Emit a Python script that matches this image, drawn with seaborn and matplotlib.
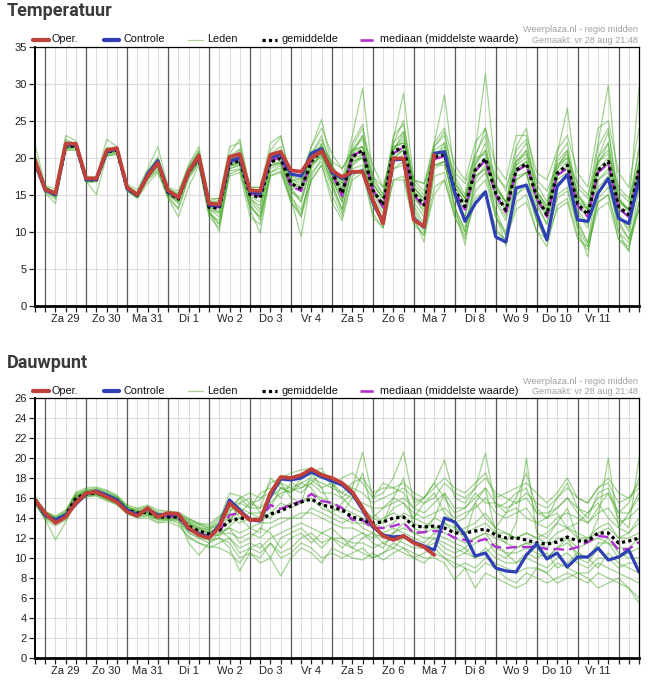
import numpy as np
import pandas as pd
import matplotlib
matplotlib.use("Agg")
import matplotlib.pyplot as plt
from matplotlib.lines import Line2D
import seaborn as sns

# ── data ──────────────────────────────────────────────────────────────────────
# time axis: hours after Za 29 00:00, every 6 h (Aug 28 18:00 .. Sep 12 12:00)
hours = list(range(-6, 349, 6))
day_labels = ["Za 29", "Zo 30", "Ma 31", "Di 1", "Wo 2", "Do 3", "Vr 4",
              "Za 5", "Zo 6", "Ma 7", "Di 8", "Wo 9", "Do 10", "Vr 11"]

# Temperatuur
temp_oper = [19.7,
             15.7, 15.2, 21.9, 21.9, 17.2, 17.2, 21.0, 21.3, 16.0, 15.0, 17.5, 19.3,
             15.6, 14.6, 18.1, 20.3, 13.8, 13.7, 20.1, 20.5, 15.6, 15.5, 20.4, 20.8,
             18.3, 18.1, 20.0, 20.9, 18.3, 17.4, 18.1, 18.1, 14.3, 11.1, 19.9, 19.9,
             11.6, 10.7, 20.4]
temp_controle = [19.3,
                 15.6, 15.0, 21.7, 21.8, 17.0, 17.1, 20.8, 21.2, 15.8, 14.9, 17.8, 19.6,
                 15.4, 14.6, 18.0, 20.1, 13.6, 13.5, 19.5, 20.0, 15.4, 15.2, 20.0, 20.5,
                 17.8, 17.5, 20.6, 21.2, 18.0, 17.2, 18.0, 18.2, 14.0, 11.2, 19.7, 19.8,
                 11.8, 10.6, 20.6, 20.8, 15.2, 11.4, 13.8, 15.4, 9.3, 8.6, 15.9, 16.3,
                 12.5, 8.9, 16.1, 17.7, 11.6, 11.4, 15.2, 17.2, 11.8, 11.1, 17.0]
temp_mean = [19.6,
             15.8, 15.0, 21.5, 21.6, 17.0, 17.0, 20.8, 21.0, 15.8, 14.9, 17.6, 19.2,
             15.3, 14.4, 18.0, 20.0, 13.3, 13.2, 19.2, 19.6, 15.0, 14.6, 19.4, 19.9,
             16.5, 15.8, 19.5, 21.0, 18.1, 15.2, 20.1, 21.0, 15.6, 13.6, 20.8, 21.5,
             15.2, 13.6, 20.1, 20.4, 15.6, 13.4, 18.3, 19.9, 15.2, 12.9, 18.3, 19.2,
             14.7, 12.3, 17.9, 19.0, 13.8, 12.3, 18.3, 19.5, 13.4, 12.3, 18.3]
temp_median = [19.5,
               15.7, 15.0, 21.6, 21.7, 17.1, 17.0, 20.9, 21.1, 15.9, 14.9, 17.7, 19.3,
               15.2, 14.5, 18.0, 20.1, 13.4, 13.3, 19.4, 19.8, 15.2, 14.8, 19.6, 20.1,
               16.2, 15.5, 19.8, 20.8, 18.0, 14.8, 20.3, 20.9, 15.7, 13.3, 20.6, 21.4,
               15.0, 13.3, 19.8, 20.2, 15.4, 13.0, 18.2, 19.6, 15.0, 12.6, 18.2, 19.0,
               14.5, 12.0, 17.6, 18.6, 13.5, 12.0, 18.0, 19.2, 13.2, 12.0, 18.0]
temp_leden = [
    [20.5, 16.0, 15.2, 22.5, 21.8, 17.2, 16.8, 21.4, 21.2, 16.1, 15.2, 18.2, 20.1, 15.8, 15.0, 18.9, 21.0,
     14.0, 14.2, 20.5, 22.5, 15.8, 15.5, 21.0, 22.8, 17.5, 17.6, 21.5, 25.2, 18.8, 17.0, 23.0, 29.4,
     17.5, 15.0, 22.0, 25.0, 16.5, 15.0, 21.5, 23.0, 17.0, 14.5, 20.0, 24.0, 16.5, 14.0, 20.0, 22.0,
     15.5, 13.0, 19.5, 21.0, 15.0, 13.0, 20.0, 23.5, 14.5, 13.0, 19.5],
    [19.0, 15.3, 14.4, 21.0, 21.2, 16.8, 17.1, 20.3, 20.6, 15.6, 14.7, 17.1, 18.4, 14.8, 13.2, 17.3, 19.3,
     12.4, 11.0, 18.2, 18.5, 13.5, 12.0, 18.0, 18.6, 14.0, 12.5, 18.0, 19.5, 16.0, 12.5, 18.5, 19.0,
     13.5, 11.5, 18.5, 19.0, 12.5, 10.0, 17.5, 18.0, 12.5, 10.0, 15.5, 17.0, 12.0, 9.5, 15.0, 16.0,
     11.5, 9.0, 14.5, 15.5, 10.5, 8.0, 14.0, 15.0, 10.0, 8.5, 14.0],
    [20.0, 16.1, 15.4, 21.8, 21.9, 17.3, 17.3, 21.2, 21.2, 15.9, 15.1, 17.9, 19.6, 15.5, 14.9, 18.5, 20.5,
     13.7, 13.6, 19.8, 20.4, 15.6, 15.4, 20.0, 20.6, 17.0, 16.8, 20.0, 21.8, 18.8, 16.0, 21.0, 22.5,
     16.5, 14.5, 22.0, 23.5, 16.0, 14.0, 21.0, 22.0, 16.5, 14.5, 19.5, 21.0, 16.0, 14.0, 19.5, 21.0,
     15.5, 13.5, 19.0, 20.5, 15.0, 13.5, 19.5, 21.0, 14.5, 13.0, 19.5],
    [19.4, 15.6, 14.8, 21.3, 21.4, 16.9, 16.9, 20.6, 20.9, 15.7, 14.8, 17.4, 19.0, 15.0, 14.0, 17.6, 19.6,
     12.8, 10.0, 18.5, 19.0, 13.0, 9.8, 18.0, 19.0, 14.5, 9.3, 17.5, 20.0, 16.5, 13.0, 19.0, 20.5,
     14.0, 12.0, 20.0, 21.0, 12.0, 8.6, 18.5, 19.5, 13.5, 8.2, 17.0, 19.0, 12.5, 8.0, 17.0, 18.0,
     11.5, 8.6, 16.5, 17.5, 10.5, 6.6, 16.0, 17.5, 10.0, 7.3, 16.0],
    [19.8, 15.9, 15.1, 22.0, 22.0, 17.1, 17.2, 21.0, 21.4, 16.0, 15.0, 17.8, 19.8, 15.6, 14.8, 18.6, 20.8,
     13.9, 13.8, 20.2, 21.2, 15.5, 15.0, 20.5, 21.5, 17.0, 16.5, 20.5, 22.5, 19.0, 16.5, 22.0, 24.5,
     17.0, 15.0, 22.5, 28.7, 17.0, 15.5, 22.0, 28.5, 17.5, 15.0, 21.0, 31.4, 18.0, 15.5, 21.5, 24.0,
     16.5, 14.0, 20.5, 26.7, 16.0, 14.5, 22.0, 29.8, 15.5, 14.0, 21.0],
    [19.2, 15.5, 15.0, 21.2, 21.5, 17.0, 16.9, 20.5, 20.8, 15.8, 14.8, 17.2, 18.8, 15.2, 14.2, 17.8, 19.8,
     13.0, 12.5, 18.8, 19.2, 14.5, 13.5, 18.8, 19.3, 15.5, 14.5, 19.0, 20.5, 17.5, 14.0, 19.5, 20.0,
     14.5, 12.5, 19.5, 20.0, 14.0, 12.0, 19.0, 19.0, 14.5, 12.0, 17.5, 18.5, 14.0, 11.5, 17.0, 18.0,
     13.5, 11.0, 16.5, 17.5, 12.5, 10.5, 17.0, 18.0, 12.0, 10.5, 17.0],
    [19.9, 15.9, 15.3, 21.6, 21.7, 17.1, 17.0, 20.9, 21.1, 16.2, 15.3, 18.0, 19.5, 15.8, 15.2, 18.4, 20.2,
     14.2, 14.5, 19.8, 20.0, 16.0, 16.0, 19.8, 20.2, 18.2, 18.0, 20.8, 21.5, 19.5, 18.5, 21.0, 21.5,
     17.5, 16.0, 21.5, 22.0, 17.0, 16.5, 20.5, 21.0, 18.0, 16.5, 20.0, 20.5, 17.5, 16.0, 19.5, 20.5,
     17.0, 15.5, 19.0, 20.0, 16.5, 15.0, 19.5, 20.5, 16.0, 14.5, 19.0],
    [19.6, 15.8, 14.9, 21.5, 21.5, 16.9, 17.0, 20.7, 20.9, 15.7, 14.9, 17.5, 19.1, 15.1, 14.2, 17.9, 19.8,
     13.1, 12.0, 19.0, 19.3, 14.2, 12.5, 19.0, 19.5, 15.5, 14.0, 19.0, 20.5, 17.0, 14.5, 19.5, 20.0,
     13.5, 11.5, 18.5, 19.5, 13.5, 11.0, 19.0, 19.5, 13.0, 10.5, 16.5, 18.0, 12.0, 10.0, 15.0, 16.5,
     11.5, 9.5, 15.0, 16.0, 11.0, 8.5, 14.5, 16.0, 11.0, 9.0, 13.0],
    [19.7, 16.1, 15.2, 21.9, 21.8, 17.2, 17.1, 21.1, 21.3, 16.0, 15.0, 18.0, 19.9, 15.5, 14.6, 18.5, 20.6,
     13.6, 13.3, 19.8, 21.0, 15.2, 15.0, 20.2, 21.0, 16.8, 16.2, 20.5, 23.0, 18.5, 15.5, 21.5, 24.0,
     16.5, 14.5, 23.0, 24.5, 16.0, 14.5, 21.5, 23.5, 16.5, 14.5, 20.5, 23.0, 16.0, 14.0, 21.0, 22.5,
     15.5, 13.5, 20.0, 22.0, 15.0, 13.0, 21.5, 24.0, 14.5, 12.5, 21.5],
    [19.5, 15.7, 14.9, 21.4, 21.6, 16.8, 17.0, 20.6, 20.8, 15.6, 14.7, 17.3, 18.9, 15.1, 14.3, 17.7, 19.7,
     13.2, 12.8, 18.8, 19.4, 14.8, 14.0, 19.0, 19.4, 16.0, 15.5, 19.0, 20.2, 17.8, 15.0, 19.8, 20.5,
     15.5, 13.5, 20.0, 21.0, 14.5, 13.0, 20.5, 20.5, 15.0, 13.0, 18.5, 19.5, 15.0, 13.0, 18.5, 19.5,
     14.5, 12.0, 17.5, 18.5, 14.0, 12.5, 18.5, 19.0, 13.5, 12.0, 18.5],
    [21.8, 16.2, 15.8, 23.0, 22.3, 17.5, 17.4, 22.5, 21.5, 16.4, 15.7, 18.5, 21.5, 16.0, 15.5, 19.0, 21.5,
     14.5, 14.5, 21.5, 22.0, 16.0, 16.0, 22.0, 23.0, 17.0, 17.2, 21.5, 24.0, 20.5, 18.5, 21.0, 23.0,
     19.0, 16.0, 21.0, 23.0, 17.0, 16.5, 22.0, 24.0, 19.0, 17.0, 22.0, 24.0, 19.0, 17.0, 23.0, 23.0,
     18.0, 17.0, 21.0, 23.0, 18.0, 16.0, 24.0, 25.0, 18.0, 16.0, 24.0],
    [19.3, 15.5, 14.6, 21.2, 21.4, 16.8, 15.0, 20.3, 20.5, 15.5, 14.5, 16.5, 18.0, 14.5, 12.0, 16.0, 19.0,
     12.0, 10.5, 17.5, 18.0, 12.0, 11.0, 17.5, 18.0, 14.0, 12.0, 17.0, 19.0, 14.0, 11.5, 17.0, 18.0,
     12.0, 10.5, 17.0, 17.0, 11.0, 9.5, 15.0, 17.0, 12.0, 9.5, 14.0, 15.0, 10.0, 9.0, 13.0, 14.0,
     10.0, 9.0, 13.0, 14.0, 9.0, 8.0, 13.0, 14.0, 9.0, 8.0, 13.0],
    [19.8, 15.9, 15.1, 21.7, 21.6, 17.0, 17.1, 20.9, 21.0, 15.9, 14.9, 17.7, 19.3, 15.3, 14.5, 18.2, 20.1,
     13.4, 13.5, 19.4, 19.8, 15.3, 14.9, 19.7, 20.3, 16.6, 16.0, 19.8, 21.5, 18.3, 15.5, 21.0, 21.5,
     16.0, 14.0, 21.5, 22.0, 15.5, 14.0, 20.5, 21.0, 16.0, 14.0, 19.0, 21.0, 15.5, 13.5, 19.0, 20.0,
     15.0, 12.5, 18.5, 20.0, 14.0, 13.0, 20.0, 22.0, 14.0, 13.0, 29.6],
    [18.8, 15.2, 13.8, 21.0, 21.0, 16.6, 16.8, 20.2, 20.5, 15.5, 14.6, 17.0, 18.2, 14.6, 13.0, 17.2, 19.2,
     12.4, 11.5, 17.8, 18.4, 13.2, 12.0, 17.6, 18.2, 14.5, 13.0, 17.0, 19.0, 15.0, 12.0, 17.5, 18.5,
     12.5, 10.5, 17.0, 17.5, 11.5, 9.5, 16.0, 17.0, 12.0, 9.0, 14.5, 15.5, 10.5, 8.5, 14.0, 15.0,
     10.0, 8.0, 13.5, 14.5, 9.5, 7.5, 14.0, 15.0, 9.0, 7.5, 14.0],
    [19.9, 16.0, 15.3, 22.2, 21.9, 17.1, 17.2, 21.1, 21.1, 15.9, 15.1, 17.9, 19.7, 15.4, 14.4, 18.3, 20.6,
     13.5, 12.5, 19.5, 20.5, 14.5, 13.0, 19.5, 20.5, 16.0, 14.0, 19.0, 22.0, 17.0, 14.0, 20.5, 23.0,
     15.0, 13.0, 21.0, 23.5, 15.0, 12.5, 20.0, 22.0, 15.5, 12.0, 19.0, 22.0, 14.5, 12.0, 19.0, 21.0,
     14.0, 11.0, 18.5, 21.0, 13.0, 11.0, 19.0, 22.0, 12.5, 10.0, 19.0],
    [19.6, 15.9, 15.0, 21.4, 21.7, 17.0, 17.0, 20.8, 21.1, 16.0, 15.1, 17.6, 19.2, 15.6, 15.0, 18.2, 20.0,
     14.0, 14.0, 19.0, 19.5, 15.5, 15.5, 19.5, 20.0, 17.5, 17.0, 20.0, 21.0, 19.0, 16.5, 20.5, 21.5,
     16.5, 14.5, 21.0, 22.5, 16.0, 14.5, 20.0, 21.5, 16.0, 14.0, 18.5, 20.0, 16.0, 14.0, 18.5, 19.5,
     15.0, 13.0, 18.0, 19.5, 14.5, 13.0, 18.5, 20.0, 14.0, 13.0, 18.0],
    [19.4, 15.6, 14.7, 21.3, 21.5, 16.9, 16.7, 20.6, 20.9, 15.6, 14.6, 17.3, 18.8, 15.0, 13.8, 17.7, 19.5,
     12.9, 11.0, 18.5, 19.0, 13.8, 11.5, 18.5, 19.2, 15.0, 12.0, 18.5, 20.5, 16.5, 13.0, 19.0, 20.0,
     14.0, 11.0, 19.5, 20.5, 13.0, 10.5, 19.0, 19.5, 13.5, 10.0, 17.5, 18.5, 13.0, 9.5, 17.5, 18.0,
     12.5, 9.5, 17.0, 18.0, 11.5, 8.5, 17.0, 18.5, 11.5, 9.0, 17.5],
    [19.7, 15.8, 15.0, 21.6, 21.6, 17.0, 17.0, 20.8, 21.0, 15.8, 14.9, 17.6, 19.2, 15.3, 14.4, 18.0, 20.0,
     13.3, 13.2, 19.2, 19.6, 15.0, 14.6, 19.4, 19.9, 16.5, 15.8, 19.5, 21.0, 18.0, 15.0, 20.0, 21.0,
     15.5, 13.5, 20.5, 21.0, 15.0, 13.5, 20.0, 20.5, 15.5, 13.5, 18.0, 20.0, 15.0, 13.0, 18.0, 19.0,
     14.5, 12.5, 17.5, 19.0, 13.5, 12.0, 18.0, 19.5, 13.0, 12.0, 18.0],
]

# Dauwpunt
dauw_oper = [15.8,
             14.5, 13.5, 14.1, 15.5, 16.5, 16.6, 16.1, 15.6, 14.6, 14.2, 15.0, 14.1,
             14.5, 14.4, 13.0, 12.3, 12.0, 13.1, 15.5, 14.6, 13.8, 13.8, 16.5, 18.1,
             18.0, 18.3, 18.9, 18.3, 18.0, 17.5, 16.6, 15.0, 13.3, 12.2, 11.8, 12.2,
             11.5, 11.1, 10.3]
dauw_controle = [15.8,
                 14.3, 13.8, 14.3, 15.4, 16.4, 16.7, 16.3, 15.8, 14.8, 14.3, 14.9, 14.3,
                 14.4, 14.3, 12.9, 12.4, 12.1, 13.3, 15.8, 14.8, 13.8, 13.7, 16.2, 17.9,
                 17.8, 18.0, 18.6, 18.1, 17.7, 17.3, 16.4, 14.8, 13.1, 12.3, 12.1, 12.2,
                 11.6, 11.2, 10.8, 14.0, 13.6, 12.3, 10.2, 10.5, 9.0, 8.7, 8.6, 10.3,
                 11.4, 9.9, 10.5, 9.1, 10.1, 10.1, 11.0, 9.8, 10.1, 10.8, 8.6]
dauw_mean = [15.8,
             14.3, 13.8, 14.3, 16.0, 16.4, 16.5, 16.2, 15.8, 14.8, 14.5, 14.6, 14.1,
             14.1, 14.1, 13.2, 12.7, 12.4, 12.8, 13.7, 14.0, 13.9, 13.8, 14.4, 14.7,
             15.2, 15.6, 15.9, 15.3, 15.1, 14.8, 14.1, 13.8, 13.5, 13.6, 14.0, 14.1,
             13.2, 13.1, 13.2, 13.0, 12.5, 12.5, 12.7, 12.9, 12.3, 12.0, 12.0, 11.8,
             11.5, 11.4, 11.6, 12.1, 11.7, 11.7, 12.5, 12.5, 11.5, 11.7, 12.0]
dauw_median = [15.8,
               14.2, 13.7, 14.3, 15.8, 16.5, 16.6, 16.1, 15.7, 14.7, 14.4, 14.8, 14.2,
               14.2, 14.0, 13.0, 12.5, 12.2, 12.6, 14.3, 14.5, 14.0, 13.8, 15.3, 14.9,
               15.3, 15.7, 16.4, 15.7, 15.5, 15.0, 13.8, 13.8, 13.0, 13.0, 13.2, 13.5,
               12.5, 12.6, 12.7, 12.6, 12.0, 11.8, 11.6, 11.9, 11.1, 11.0, 11.1, 11.1,
               11.1, 10.9, 10.9, 10.8, 11.1, 11.6, 12.2, 12.1, 10.8, 10.9, 11.6]
dauw_leden = [
    [15.9, 14.6, 14.0, 14.6, 16.5, 16.8, 17.0, 16.6, 16.0, 15.0, 14.8, 15.2, 14.6, 14.6, 14.5, 13.8, 13.4,
     13.0, 13.8, 16.5, 16.2, 15.5, 15.8, 17.5, 18.0, 18.5, 18.8, 19.0, 18.5, 18.0, 17.5, 17.0, 16.5,
     15.5, 16.0, 16.5, 17.0, 16.0, 15.5, 16.0, 17.5, 16.5, 16.0, 17.0, 18.0, 16.5, 16.0, 15.5, 16.5,
     15.5, 15.0, 16.0, 17.0, 16.0, 15.5, 17.0, 18.0, 16.5, 16.0, 17.5],
    [15.5, 13.8, 13.2, 13.8, 15.4, 16.2, 16.3, 15.8, 15.3, 14.5, 14.1, 14.2, 13.6, 13.8, 13.5, 12.0, 11.5,
     11.2, 11.0, 10.5, 9.5, 11.0, 10.5, 11.5, 10.5, 11.0, 12.0, 12.5, 11.5, 12.0, 11.5, 11.0, 10.5,
     10.0, 10.5, 11.0, 10.5, 10.0, 9.5, 10.5, 10.0, 9.5, 9.0, 8.5, 9.5, 9.0, 8.0, 7.5, 8.5,
     8.0, 7.5, 8.0, 8.5, 8.0, 7.5, 8.5, 8.0, 7.5, 7.0, 6.0],
    [15.7, 14.3, 13.8, 14.4, 16.2, 16.5, 16.4, 16.0, 15.9, 14.9, 14.6, 14.5, 14.0, 14.0, 14.2, 13.4, 12.9,
     12.5, 12.2, 13.2, 14.0, 14.5, 14.0, 14.0, 15.0, 15.5, 15.5, 16.0, 15.0, 14.5, 14.0, 13.5, 13.5,
     13.0, 14.0, 14.5, 14.0, 13.5, 13.0, 14.0, 13.5, 12.5, 13.0, 13.5, 14.5, 13.0, 12.5, 12.0, 12.5,
     12.0, 12.5, 13.5, 13.0, 12.5, 12.0, 13.0, 13.5, 12.0, 12.5, 13.5],
    [16.1, 14.5, 13.9, 14.5, 16.1, 16.9, 16.8, 16.4, 16.1, 15.2, 14.5, 14.9, 14.3, 14.3, 13.8, 13.5, 13.0,
     12.8, 13.5, 14.5, 16.0, 15.0, 16.5, 17.0, 16.0, 17.5, 17.0, 17.8, 17.0, 17.5, 16.0, 17.0, 20.6,
     16.0, 16.5, 18.0, 20.6, 15.5, 16.0, 17.5, 19.8, 16.0, 15.5, 17.0, 20.5, 15.0, 15.5, 16.5, 17.0,
     14.5, 14.0, 16.0, 17.5, 15.0, 14.0, 16.5, 17.0, 14.5, 15.5, 18.0],
    [15.6, 14.0, 13.5, 14.0, 15.8, 16.4, 16.6, 16.4, 15.7, 14.7, 14.3, 14.6, 14.0, 14.1, 14.0, 11.5, 10.3,
     11.5, 12.0, 11.0, 8.7, 10.5, 9.5, 10.0, 8.2, 10.0, 11.0, 10.5, 9.5, 11.0, 10.5, 10.0, 9.8,
     10.5, 9.8, 10.5, 11.0, 10.5, 10.0, 10.0, 9.5, 7.8, 9.0, 7.0, 8.5, 8.0, 7.5, 7.0, 7.5,
     9.0, 8.5, 7.5, 8.0, 8.5, 8.0, 7.0, 7.5, 8.0, 7.0, 5.5],
    [15.8, 14.4, 14.0, 14.2, 16.0, 16.6, 16.5, 16.4, 16.0, 14.9, 14.7, 14.8, 14.3, 14.2, 14.2, 13.5, 13.0,
     12.7, 13.0, 14.8, 15.0, 14.5, 14.5, 15.5, 16.5, 16.8, 17.0, 17.5, 16.5, 16.5, 16.0, 15.0, 14.5,
     14.0, 13.5, 15.0, 15.5, 14.5, 14.0, 14.5, 15.0, 14.0, 14.5, 15.0, 16.0, 14.5, 14.0, 14.5, 15.0,
     13.5, 13.0, 14.0, 14.5, 14.0, 13.5, 14.5, 15.0, 13.5, 14.0, 15.0],
    [15.7, 14.2, 13.6, 14.1, 15.9, 16.3, 16.4, 16.0, 15.6, 14.6, 14.4, 14.3, 13.9, 13.9, 13.9, 12.8, 12.3,
     12.0, 12.4, 12.5, 12.0, 12.5, 12.0, 13.0, 13.5, 14.0, 14.5, 14.5, 14.0, 13.5, 13.0, 13.0, 12.5,
     12.0, 12.5, 13.0, 12.5, 12.0, 11.5, 12.5, 12.0, 11.5, 11.0, 12.0, 12.5, 11.0, 10.5, 10.5, 11.0,
     10.5, 10.0, 11.0, 11.5, 10.5, 10.0, 11.5, 11.5, 10.0, 10.5, 11.0],
    [16.0, 14.6, 14.2, 14.8, 16.4, 16.7, 16.9, 16.7, 16.2, 15.1, 14.9, 15.0, 14.5, 14.3, 14.4, 13.9, 13.5,
     13.2, 14.0, 15.5, 14.0, 13.0, 12.5, 16.5, 17.5, 16.0, 15.5, 18.5, 17.0, 15.0, 14.5, 16.0, 18.5,
     14.5, 13.5, 16.0, 18.0, 13.0, 12.5, 14.0, 16.5, 13.0, 12.0, 15.5, 17.0, 12.5, 11.5, 13.5, 20.0,
     12.5, 12.0, 13.5, 15.0, 12.0, 11.5, 14.0, 20.0, 13.0, 12.5, 14.0],
    [15.4, 13.9, 11.8, 13.6, 15.6, 16.1, 16.2, 15.7, 15.4, 14.4, 14.0, 14.0, 13.5, 13.6, 13.2, 12.2, 11.5,
     11.0, 11.5, 12.0, 11.0, 11.5, 11.0, 12.0, 12.5, 13.0, 13.5, 13.0, 12.5, 12.0, 12.0, 11.5, 11.5,
     11.0, 11.5, 12.0, 11.5, 11.0, 11.0, 11.5, 10.5, 10.0, 10.5, 10.0, 11.0, 10.0, 9.5, 9.5, 10.0,
     9.5, 9.0, 10.0, 10.5, 9.5, 9.0, 10.0, 10.0, 9.0, 9.5, 9.5],
    [15.9, 14.5, 13.9, 14.4, 16.2, 16.6, 16.7, 16.3, 15.9, 14.9, 14.6, 14.9, 14.4, 14.4, 14.3, 13.6, 13.1,
     12.9, 13.3, 15.0, 15.5, 15.0, 15.0, 16.0, 17.0, 17.0, 17.5, 18.0, 17.5, 17.0, 16.5, 16.0, 15.5,
     15.0, 15.0, 15.5, 16.0, 15.0, 14.5, 15.5, 16.5, 15.0, 15.0, 16.0, 17.0, 15.5, 15.0, 15.5, 16.0,
     14.5, 14.5, 15.0, 16.0, 15.0, 14.5, 16.0, 16.5, 14.5, 14.5, 16.0],
    [15.6, 14.1, 13.7, 14.2, 15.9, 16.4, 16.5, 16.1, 15.8, 14.8, 14.4, 14.6, 14.1, 14.1, 14.1, 13.1, 12.6,
     12.3, 12.8, 12.0, 10.5, 11.0, 11.5, 10.0, 12.0, 12.5, 13.0, 12.0, 11.0, 12.0, 11.0, 12.0, 12.5,
     11.5, 11.0, 12.5, 13.5, 12.5, 12.0, 12.0, 11.5, 11.0, 10.5, 11.5, 12.0, 10.5, 10.0, 11.0, 11.5,
     11.0, 10.0, 11.0, 12.0, 10.0, 9.5, 11.0, 12.0, 10.5, 10.0, 10.0],
    [15.8, 14.3, 13.8, 14.3, 16.0, 16.5, 16.6, 16.2, 15.8, 14.8, 14.5, 14.6, 14.1, 14.1, 14.1, 13.2, 12.7,
     12.5, 12.9, 14.0, 13.5, 14.0, 14.0, 14.5, 15.5, 15.0, 15.5, 16.5, 16.0, 15.5, 15.0, 14.5, 14.0,
     13.5, 13.0, 13.5, 14.5, 14.0, 13.5, 13.0, 13.5, 13.0, 12.5, 13.0, 13.5, 12.5, 12.5, 12.0, 12.5,
     12.0, 11.5, 12.5, 13.0, 12.0, 12.0, 12.5, 13.0, 12.0, 12.0, 12.5],
    [16.2, 14.7, 14.1, 14.7, 16.6, 17.0, 17.1, 16.8, 16.3, 15.3, 15.0, 15.3, 14.8, 14.7, 14.6, 14.0, 13.4,
     13.4, 14.2, 15.0, 16.0, 16.5, 16.0, 16.5, 17.5, 17.0, 16.5, 17.5, 18.5, 17.5, 16.5, 17.5, 18.0,
     16.5, 17.0, 17.0, 17.5, 16.5, 16.0, 17.0, 18.0, 17.0, 16.5, 17.5, 18.5, 16.0, 16.5, 17.0, 17.5,
     16.5, 15.5, 16.5, 18.0, 16.0, 15.5, 17.0, 17.5, 15.5, 16.0, 17.0],
    [15.5, 14.0, 13.4, 14.0, 15.5, 16.2, 16.3, 15.9, 15.5, 14.5, 14.2, 14.3, 13.8, 13.8, 13.7, 12.5, 12.0,
     11.8, 12.0, 11.5, 10.0, 10.5, 10.0, 11.5, 10.0, 10.5, 11.5, 11.0, 10.0, 10.5, 10.0, 10.5, 11.0,
     10.0, 10.5, 11.5, 11.0, 10.0, 10.5, 11.0, 10.0, 9.0, 9.5, 9.0, 10.0, 9.5, 9.0, 8.5, 9.0,
     9.0, 8.5, 9.5, 9.0, 8.5, 8.5, 9.5, 9.0, 8.5, 8.0, 7.5],
    [15.7, 14.4, 13.9, 14.4, 16.1, 16.6, 16.6, 16.2, 15.8, 14.8, 14.5, 14.7, 14.2, 14.2, 14.1, 13.3, 12.8,
     12.6, 13.0, 13.5, 15.5, 16.0, 14.5, 15.0, 17.0, 16.5, 17.5, 17.0, 15.5, 14.5, 15.5, 16.5, 15.0,
     14.0, 15.0, 16.0, 15.5, 14.0, 15.5, 16.5, 14.5, 13.5, 14.0, 15.5, 14.0, 13.0, 14.5, 15.0, 14.0,
     13.5, 14.0, 14.5, 13.0, 13.5, 14.5, 15.5, 14.0, 13.0, 14.5, 16.5],
    [15.6, 14.1, 13.6, 14.2, 15.7, 16.3, 16.4, 16.0, 15.6, 14.6, 14.3, 14.4, 13.9, 13.9, 13.8, 12.6, 12.0,
     11.5, 12.5, 13.0, 11.5, 12.0, 13.0, 12.5, 11.0, 12.0, 12.5, 11.5, 12.5, 13.0, 12.0, 11.0, 12.0,
     12.5, 11.5, 11.0, 12.0, 11.5, 11.0, 12.0, 11.0, 10.5, 11.0, 10.0, 10.5, 11.5, 10.5, 9.5, 10.5,
     10.0, 10.5, 9.0, 9.5, 10.5, 10.0, 9.0, 10.5, 9.5, 9.0, 8.5],
    [15.9, 14.5, 14.0, 14.5, 16.3, 16.7, 16.8, 16.5, 16.1, 15.1, 14.7, 14.9, 14.4, 14.4, 14.3, 13.7, 13.3,
     13.0, 13.5, 14.0, 14.5, 15.5, 15.0, 18.0, 17.0, 16.5, 18.0, 18.5, 19.0, 17.0, 18.0, 18.5, 17.5,
     16.0, 17.5, 17.0, 16.5, 15.0, 16.0, 17.5, 16.0, 14.5, 15.0, 16.5, 15.5, 15.5, 14.5, 16.0, 18.5,
     15.0, 14.0, 15.0, 16.0, 14.5, 13.5, 15.0, 16.5, 14.0, 13.0, 20.0],
    [15.8, 14.2, 13.7, 14.3, 15.9, 16.4, 16.5, 16.1, 15.7, 14.7, 14.4, 14.5, 14.0, 14.0, 14.0, 13.0, 12.5,
     12.2, 12.6, 13.0, 12.5, 13.0, 13.5, 13.5, 14.0, 14.0, 14.0, 15.0, 14.5, 14.0, 13.5, 14.0, 13.0,
     12.5, 12.0, 12.5, 13.0, 12.5, 12.5, 13.0, 12.5, 12.0, 11.5, 12.0, 12.5, 12.0, 11.5, 11.0, 11.5,
     11.5, 11.0, 12.0, 12.0, 11.0, 11.5, 12.0, 11.5, 11.0, 11.0, 12.0],
]

# ── style ─────────────────────────────────────────────────────────────────────
sns.set_theme(style="white")
plt.rcParams["font.family"] = ["Liberation Sans", "DejaVu Sans"]

RED    = "#c0403a"
BLUE   = "#2f3fb4"
GREEN  = "#48a828"
PURPLE = "#b02fd0"
GRID   = "#dcdcdc"
DAYLN  = "#5a5a5a"

W, H = 649, 686
fig = plt.figure(figsize=(W / 100, H / 100), dpi=100)


def px(x, y):
    return x / W, 1 - y / H


def ensemble_frame(leden):
    rows = []
    for m, vals in enumerate(leden):
        assert len(vals) == len(hours), (m, len(vals))
        rows.append(pd.DataFrame({"hour": hours, "value": vals, "member": m}))
    return pd.concat(rows, ignore_index=True)


def draw_panel(ax, oper, controle, mean, median, leden, ymax, ystep):
    ax.set_xlim(hours[0], hours[-1])
    ax.set_ylim(0, ymax)

    # 6-hourly grid, darker at midnight
    for h in hours:
        if h % 24 == 0:
            ax.axvline(h, color=DAYLN, lw=0.9, zorder=0.6)
        else:
            ax.axvline(h, color=GRID, lw=0.8, zorder=0.5)
    ax.set_yticks(range(0, ymax + 1, ystep))
    ax.yaxis.grid(True, color=GRID, lw=0.8)
    ax.set_axisbelow(True)

    df = ensemble_frame(leden)
    sns.lineplot(data=df, x="hour", y="value", units="member", estimator=None,
                 color=GREEN, lw=0.9, alpha=0.5, legend=False, ax=ax)
    sns.lineplot(x=hours, y=median, color=PURPLE, lw=1.7,
                 linestyle=(0, (4.5, 2.2)), ax=ax)
    sns.lineplot(x=hours, y=mean, color="black", lw=2.3,
                 linestyle=(0, (1, 1)), ax=ax)
    sns.lineplot(x=hours[:len(controle)], y=controle, color=BLUE, lw=2.3, ax=ax)
    sns.lineplot(x=hours[:len(oper)], y=oper, color=RED, lw=2.7, ax=ax)

    ax.set_xticks([12 + 24 * d for d in range(len(day_labels))])
    ax.set_xticklabels(day_labels)
    ax.set_xticks(hours, minor=True)
    ax.tick_params(axis="x", which="both", bottom=True, length=4, width=0.9,
                   color="#222222", pad=2, labelsize=8, labelcolor="#222222")
    ax.tick_params(axis="y", left=True, length=4, width=0.9, color="#222222",
                   pad=2, labelsize=8, labelcolor="#222222")
    ax.set_xlabel("")
    ax.set_ylabel("")
    for side, sp in ax.spines.items():
        sp.set_visible(True)
        sp.set_color("black")
        sp.set_linewidth(0.9)
    ax.spines["bottom"].set_linewidth(2.0)
    ax.spines["left"].set_linewidth(1.4)


def draw_header(title, title_y, leg_y):
    fig.text(*px(7, title_y), title, fontsize=13, fontweight="bold",
             color="#3a3a3a", va="center", family=["Roboto", "DejaVu Sans"])
    items = [
        (33, 49, 52, "Oper.", dict(color=RED, lw=3.0)),
        (104, 119, 123, "Controle", dict(color=BLUE, lw=3.0)),
        (188, 203, 207, "Leden", dict(color="#a8d098", lw=0.9)),
        (262, 277, 282, "gemiddelde", dict(color="black", lw=2.3, linestyle=(0, (1, 1)))),
        (360, 376, 380, "mediaan (middelste waarde)",
         dict(color=PURPLE, lw=1.9, linestyle=(0, (5, 2.5)))),
    ]
    for x0, x1, xt, label, kw in items:
        fx0, fy = px(x0, leg_y)
        fx1, _ = px(x1, leg_y)
        fig.add_artist(Line2D([fx0, fx1], [fy, fy], **kw))
        fig.text(*px(xt, leg_y), label, fontsize=7.8, color="#111111", va="center")
    fig.text(*px(638, leg_y - 10), "Weerplaza.nl - regio midden", fontsize=6.6,
             color="#a0a0a0", ha="right", va="center")
    fig.text(*px(638, leg_y + 1), "Gemaakt: vr 28 aug 21:48", fontsize=6.6,
             color="#a0a0a0", ha="right", va="center")


# ── panels ────────────────────────────────────────────────────────────────────
ax_t = fig.add_axes([35 / W, 1 - 305.7 / H, 604 / W, 259 / H])
draw_panel(ax_t, temp_oper, temp_controle, temp_mean, temp_median, temp_leden, 35, 5)
draw_header("Temperatuur", 11, 39.5)

ax_d = fig.add_axes([35 / W, 1 - 658 / H, 604 / W, 260 / H])
draw_panel(ax_d, dauw_oper, dauw_controle, dauw_mean, dauw_median, dauw_leden, 26, 2)
draw_header("Dauwpunt", 363, 391)

fig.savefig("out.png", dpi=100)
plt.close(fig)
